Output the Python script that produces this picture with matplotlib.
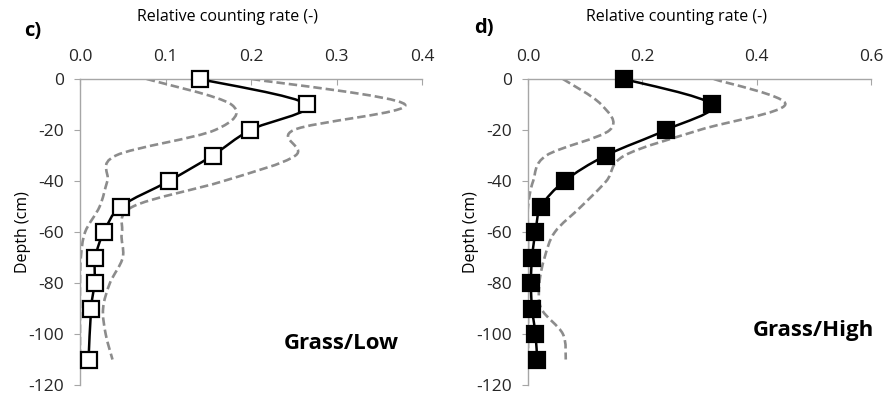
import matplotlib.pyplot as plt
import numpy as np
from matplotlib.path import Path
from matplotlib.patches import PathPatch

plt.rcParams['font.family'] = ['Open Sans', 'DejaVu Sans']
plt.rcParams['axes.unicode_minus'] = False

# panel c) Grass/Low
depth_c = [0, -10, -20, -30, -40, -50, -60, -70, -80, -90, -110]
mean_c = [0.140, 0.265, 0.199, 0.155, 0.104, 0.048, 0.028, 0.018, 0.017, 0.013, 0.010]
depth_band = [0, -10, -20, -30, -40, -50, -60, -70, -80, -90, -100, -110]
low_c = [0.078, 0.177, 0.158, 0.042, 0.032, 0.023, 0.006, 0.001, 0.0, 0.0, 0.0, 0.0]
high_c = [0.201, 0.380, 0.250, 0.252, 0.168, 0.062, 0.049, 0.050, 0.035, 0.027, 0.030, 0.038]

# panel d) Grass/High
depth_d = [0, -10, -20, -30, -40, -50, -60, -70, -80, -90, -100, -110]
mean_d = [0.168, 0.321, 0.241, 0.136, 0.064, 0.023, 0.013, 0.007, 0.005, 0.007, 0.013, 0.016]
low_d = [0.061, 0.128, 0.143, 0.032, 0.009, 0.0, 0.0, 0.0, 0.0, 0.0, 0.0, 0.0]
high_d = [0.325, 0.450, 0.300, 0.169, 0.137, 0.093, 0.047, 0.029, 0.020, 0.023, 0.061, 0.066]

xticks_c = [0.0, 0.1, 0.2, 0.3, 0.4]
xticks_d = [0.0, 0.2, 0.4, 0.6]
yticks = [0, -20, -40, -60, -80, -100, -120]

GREY = '#8c8c8c'


def smooth_path(x, y):
    # excel-style smoothed line: catmull-rom turned into cubic beziers
    p = np.column_stack([x, y]).astype(float)
    pts = [p[0]]
    codes = [Path.MOVETO]
    n = len(p)
    for i in range(n - 1):
        p0 = p[i - 1] if i > 0 else p[i]
        p1, p2 = p[i], p[i + 1]
        p3 = p[i + 2] if i + 2 < n else p[i + 1]
        pts += [p1 + (p2 - p0) / 6, p2 - (p3 - p1) / 6, p2]
        codes += [Path.CURVE4] * 3
    return Path(pts, codes)


def panel(ax, depth, mean, low, high, xticks, filled):
    for band in (low, high):
        ax.add_patch(PathPatch(smooth_path(band, depth_band), fill=False,
                               edgecolor=GREY, lw=1.9, ls=(0, (3.2, 1.5)), zorder=2))
    ax.add_patch(PathPatch(smooth_path(mean, depth), fill=False,
                           edgecolor='black', lw=1.8, zorder=3))
    ax.plot(mean, depth, ls='none', marker='s', ms=12,
            mfc='black' if filled else 'white', mec='black', mew=1.6,
            zorder=4, clip_on=False)

    ax.set_xlim(xticks[0], xticks[-1])
    ax.set_ylim(-120, 0)
    ax.set_xticks(xticks)
    ax.set_xticklabels(['%.1f' % t for t in xticks])
    ax.set_yticks(yticks)
    ax.xaxis.tick_top()
    ax.tick_params(axis='x', direction='in', length=4, pad=10, color='#a6a6a6',
                   labelsize=12.5, labelcolor='#262626')
    ax.tick_params(axis='y', direction='out', length=4.5, pad=7, color='#a6a6a6',
                   labelsize=12.5, labelcolor='#262626')
    for s in ('right', 'bottom'):
        ax.spines[s].set_visible(False)
    for s in ('left', 'top'):
        ax.spines[s].set_color('#a6a6a6')
        ax.spines[s].set_linewidth(1.0)
    ax.set_ylabel('Depth (cm)', fontsize=11.5, labelpad=-2)
    ax.set_facecolor('none')


fig = plt.figure(figsize=(8.87, 3.94), dpi=100)
ax1 = fig.add_axes([0.0902, 0.0228, 0.3856, 0.7767])
ax2 = fig.add_axes([0.5953, 0.0228, 0.3867, 0.7767])

panel(ax1, depth_c, mean_c, low_c, high_c, xticks_c, False)
panel(ax2, depth_d, mean_d, low_d, high_d, xticks_d, True)

fig.text(0.2565, 0.957, 'Relative counting rate (-)', ha='center', va='center', fontsize=11.5)
fig.text(0.7622, 0.957, 'Relative counting rate (-)', ha='center', va='center', fontsize=11.5)
fig.text(0.0372, 0.922, 'c)', ha='center', va='center', fontsize=14.5, fontweight='bold')
fig.text(0.5457, 0.929, 'd)', ha='center', va='center', fontsize=14.5, fontweight='bold')
fig.text(0.3845, 0.129, 'Grass/Low', ha='center', va='center', fontsize=16, fontweight='bold')
fig.text(0.9166, 0.1624, 'Grass/High', ha='center', va='center', fontsize=16, fontweight='bold')

fig.savefig('out.png', dpi=100)
